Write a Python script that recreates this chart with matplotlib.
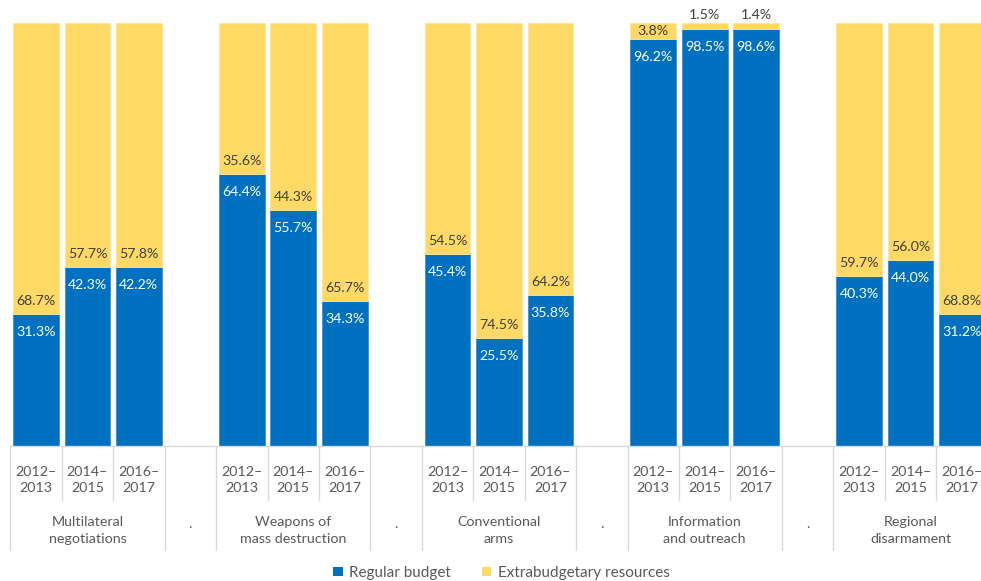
import numpy as np
import matplotlib.pyplot as plt
from matplotlib.patches import Patch

plt.rcParams['font.family'] = ['Lato', 'DejaVu Sans']

groups = ['Multilateral\nnegotiations', 'Weapons of\nmass destruction', 'Conventional\narms',
          'Information\nand outreach', 'Regional\ndisarmament']
periods = ['2012–\n2013', '2014–\n2015', '2016–\n2017']
regular = [[31.3, 42.3, 42.2], [64.4, 55.7, 34.3], [45.4, 25.5, 35.8],
           [96.2, 98.5, 98.6], [40.3, 44.0, 31.2]]
extra = [[68.7, 57.7, 57.8], [35.6, 44.3, 65.7], [54.5, 74.5, 64.2],
         [3.8, 1.5, 1.4], [59.7, 56.0, 68.8]]

blue = '#0070C0'
yellow = '#FFD966'
grey = '#595959'
line_c = '#D9D9D9'

W, H = 981, 581
fig = plt.figure(figsize=(W/100, H/100), dpi=100)
left_px, base_px, top_px, slot = 10.3, 446, 23, 51.44
ax = fig.add_axes([left_px/W, (H-base_px)/H, (W-left_px)/W, (base_px-top_px)/H])
ax.set_xlim(-0.5, -0.5 + (W-left_px)/slot)
ax.set_ylim(0, 100)
ax.axis('off')
px = 100/(base_px-top_px)  # data units per pixel in y

for g in range(len(groups)):
    for j in range(len(periods)):
        x = g*4 + j
        r, e = regular[g][j], extra[g][j]
        ax.bar(x, r, width=0.89, color=blue, edgecolor='#3d8fd0', linewidth=0.6)
        ax.bar(x, e, bottom=r, width=0.89, color=yellow, edgecolor='#ffe699', linewidth=0.6)
        ax.text(x, r - 18*px, f'{r:.1f}%', ha='center', va='center', color='white', fontsize=10.2)
        seg = e/px
        if seg < 10:
            ax.text(x, 100 + 8*px, f'{e:.1f}%', ha='center', va='center', color='#404040', fontsize=10.2)
        elif seg < 22:
            ax.text(x, r + e/2, f'{e:.1f}%', ha='center', va='center', color='#404040', fontsize=10.2)
        else:
            ax.text(x, r + 13*px, f'{e:.1f}%', ha='center', va='center', color='#404040', fontsize=10.2)

tr = ax.get_xaxis_transform()
ax.plot([-0.5, 30], [0, 0], color=line_c, lw=1, transform=tr, clip_on=False)
short = -54/(base_px-top_px)
long_ = -104/(base_px-top_px)
for g in range(len(groups)):
    for j in range(len(periods)):
        x = g*4 + j
        ax.text(x, -(480-base_px)/(base_px-top_px), periods[j], transform=tr, ha='center', va='center',
                color=grey, fontsize=10.3, linespacing=1.5)
    for j in (1, 2):
        ax.plot([g*4 + j - 0.5]*2, [0, short], color=line_c, lw=1, transform=tr, clip_on=False)
    ax.plot([g*4 - 0.5]*2, [0, long_], color=line_c, lw=1, transform=tr, clip_on=False)
    ax.plot([g*4 + 2.5]*2, [0, long_], color=line_c, lw=1, transform=tr, clip_on=False)
    ax.text(g*4 + 1, -(530.5-base_px)/(base_px-top_px), groups[g], transform=tr, ha='center', va='center',
            color=grey, fontsize=10.3, linespacing=1.45)
    if g < len(groups) - 1:
        ax.text(g*4 + 3, -(528-base_px)/(base_px-top_px), '.', transform=tr, ha='center', va='baseline',
                color=grey, fontsize=10.3)

handles = [Patch(facecolor=blue, label='Regular budget'),
           Patch(facecolor=yellow, label='Extrabudgetary resources')]
fig.legend(handles=handles, loc='center', bbox_to_anchor=(501.5/W, 1-573/H), ncol=2, frameon=False,
           fontsize=11, handlelength=0.6, handleheight=0.6, handletextpad=0.45, columnspacing=2.0,
           labelcolor=grey)

fig.savefig('out.png', dpi=100)
